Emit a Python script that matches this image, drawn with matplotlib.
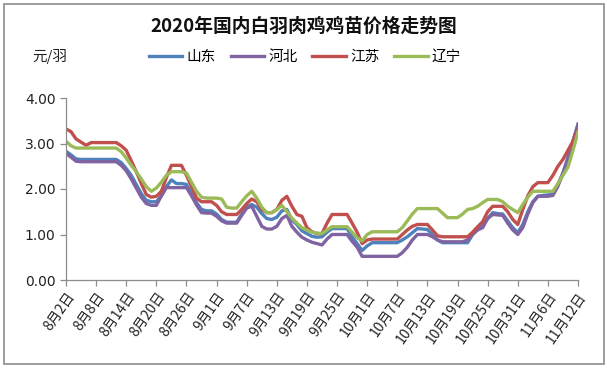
import matplotlib
matplotlib.use("Agg")
import matplotlib.pyplot as plt
import numpy as np
import pandas as pd
from matplotlib.patches import Rectangle

plt.rcParams['font.family'] = ['Noto Sans CJK SC', 'DejaVu Sans']

dates = pd.date_range('2020-08-02', '2020-11-12', freq='D')
categories = [f"{d.month}月{d.day}日" for d in dates]

shandong = [2.83, 2.75, 2.66, 2.65, 2.65, 2.65, 2.65, 2.65, 2.65, 2.65,
            2.65, 2.58, 2.45, 2.30, 2.10, 1.90, 1.75, 1.72, 1.72, 1.85,
            2.05, 2.20, 2.12, 2.12, 2.10, 1.90, 1.70, 1.55, 1.52, 1.52,
            1.45, 1.33, 1.27, 1.27, 1.27, 1.45, 1.60, 1.66, 1.60, 1.46,
            1.35, 1.33, 1.38, 1.52, 1.55, 1.32, 1.22, 1.08, 1.02, 0.96,
            0.94, 0.95, 1.05, 1.13, 1.13, 1.13, 1.13, 0.95, 0.80, 0.65,
            0.75, 0.82, 0.82, 0.82, 0.82, 0.82, 0.82, 0.88, 0.95, 1.04,
            1.13, 1.12, 1.11, 1.00, 0.88, 0.82, 0.82, 0.82, 0.82, 0.82,
            0.82, 1.00, 1.12, 1.20, 1.35, 1.48, 1.46, 1.45, 1.30, 1.15,
            1.04, 1.22, 1.50, 1.72, 1.84, 1.86, 1.87, 1.88, 2.10, 2.35,
            2.70, 3.05, 3.40]

hebei = [2.78, 2.70, 2.61, 2.60, 2.60, 2.60, 2.60, 2.60, 2.60, 2.60,
         2.60, 2.52, 2.40, 2.22, 2.02, 1.82, 1.68, 1.64, 1.64, 1.85,
         2.03, 2.03, 2.03, 2.03, 2.03, 1.85, 1.65, 1.48, 1.47, 1.47,
         1.40, 1.30, 1.25, 1.25, 1.25, 1.42, 1.58, 1.62, 1.40, 1.18,
         1.12, 1.12, 1.18, 1.35, 1.42, 1.18, 1.05, 0.94, 0.88, 0.83,
         0.80, 0.77, 0.90, 1.00, 1.00, 1.00, 1.00, 0.85, 0.72, 0.52,
         0.52, 0.52, 0.52, 0.52, 0.52, 0.52, 0.52, 0.60, 0.72, 0.88,
         1.00, 1.00, 1.00, 0.95, 0.88, 0.84, 0.84, 0.84, 0.84, 0.84,
         0.88, 1.00, 1.10, 1.15, 1.35, 1.44, 1.43, 1.42, 1.25, 1.10,
         1.00, 1.15, 1.45, 1.70, 1.84, 1.84, 1.84, 1.86, 2.06, 2.35,
         2.65, 3.05, 3.43]

jiangsu = [3.32, 3.26, 3.10, 3.03, 2.96, 3.02, 3.02, 3.02, 3.02, 3.02,
           3.02, 2.95, 2.85, 2.62, 2.38, 2.12, 1.88, 1.82, 1.84, 1.95,
           2.25, 2.52, 2.52, 2.52, 2.30, 2.05, 1.80, 1.72, 1.72, 1.72,
           1.64, 1.50, 1.44, 1.44, 1.44, 1.55, 1.68, 1.78, 1.72, 1.55,
           1.48, 1.48, 1.55, 1.75, 1.84, 1.62, 1.44, 1.40, 1.15, 1.06,
           1.02, 1.02, 1.25, 1.44, 1.44, 1.44, 1.44, 1.25, 1.05, 0.80,
           0.88, 0.90, 0.90, 0.90, 0.90, 0.90, 0.90, 1.00, 1.10, 1.18,
           1.22, 1.22, 1.22, 1.10, 0.97, 0.95, 0.95, 0.95, 0.95, 0.95,
           0.95, 1.05, 1.17, 1.28, 1.50, 1.62, 1.62, 1.62, 1.50, 1.33,
           1.22, 1.55, 1.85, 2.05, 2.14, 2.14, 2.14, 2.30, 2.50, 2.65,
           2.85, 3.05, 3.30]

liaoning = [3.05, 2.95, 2.90, 2.90, 2.90, 2.90, 2.90, 2.90, 2.90, 2.90,
            2.90, 2.82, 2.68, 2.52, 2.38, 2.22, 2.05, 1.95, 2.02, 2.15,
            2.30, 2.38, 2.38, 2.38, 2.35, 2.15, 1.95, 1.82, 1.80, 1.80,
            1.80, 1.78, 1.60, 1.58, 1.58, 1.72, 1.85, 1.95, 1.80, 1.60,
            1.48, 1.48, 1.55, 1.64, 1.50, 1.36, 1.25, 1.15, 1.10, 1.05,
            1.03, 1.02, 1.10, 1.17, 1.17, 1.17, 1.17, 1.05, 0.93, 0.86,
            1.00, 1.06, 1.06, 1.06, 1.06, 1.06, 1.06, 1.15, 1.30, 1.45,
            1.57, 1.57, 1.57, 1.57, 1.57, 1.47, 1.37, 1.37, 1.37, 1.45,
            1.55, 1.57, 1.62, 1.70, 1.77, 1.77, 1.77, 1.72, 1.62, 1.55,
            1.48, 1.66, 1.82, 1.95, 1.95, 1.95, 1.95, 1.95, 2.12, 2.30,
            2.48, 2.85, 3.25]

series_names = ['山东', '河北', '江苏', '辽宁']
series_values = [shandong, hebei, jiangsu, liaoning]
colors = ['#4F81BD', '#8064A2', '#C0504D', '#9BBB59']

W, H = 608, 368
fig = plt.figure(figsize=(W / 100, H / 100), dpi=100)
fig.patch.set_facecolor('white')

left, right, top, bottom = 66, 578, 98, 280
ax = fig.add_axes([left / W, 1 - bottom / H, (right - left) / W, (bottom - top) / H])

x = np.arange(len(categories))
for name, vals, c in zip(series_names, series_values, colors):
    ax.plot(x, vals, color=c, lw=2.4, label=name, solid_joinstyle='round')

ax.set_xlim(0, len(categories) - 1)
ax.set_ylim(0, 4)
ax.set_yticks([0, 1, 2, 3, 4])
ax.set_yticklabels([f"{v:.2f}" for v in [0, 1, 2, 3, 4]], fontsize=10,
                   family=['DejaVu Sans'])
tick_idx = list(range(0, len(categories), 6))
ax.set_xticks(tick_idx)
ax.set_xticklabels([categories[i] for i in tick_idx], rotation=55,
                   ha='right', va='top', rotation_mode='anchor', fontsize=10)

for s in ['top', 'right']:
    ax.spines[s].set_visible(False)
for s in ['left', 'bottom']:
    ax.spines[s].set_color('#8c8c8c')
    ax.spines[s].set_linewidth(0.9)
ax.tick_params(axis='both', colors='#8c8c8c', length=4, width=0.9, labelcolor='#222222')
ax.tick_params(axis='x', pad=3)

fig.text(0.5, 1 - 26 / H, '2020年国内白羽肉鸡鸡苗价格走势图', ha='center', va='center',
         fontsize=13.5, fontweight='bold', color='#111111')
fig.text(32 / W, 1 - 57 / H, '元/羽', ha='left', va='center', fontsize=10.5, color='#222222')

leg = fig.legend(*ax.get_legend_handles_labels(), loc='center', bbox_to_anchor=(305 / W, 1 - 57 / H),
                 ncol=4, frameon=False, fontsize=10.5, handlelength=2.3, handletextpad=0.3,
                 columnspacing=1.0)

fig.patches.append(Rectangle((4 / W, 4 / H), (W - 8) / W, (H - 8) / H, transform=fig.transFigure,
                             fill=False, edgecolor='#8c8c8c', lw=1.2))

fig.savefig('out.png', dpi=100)
